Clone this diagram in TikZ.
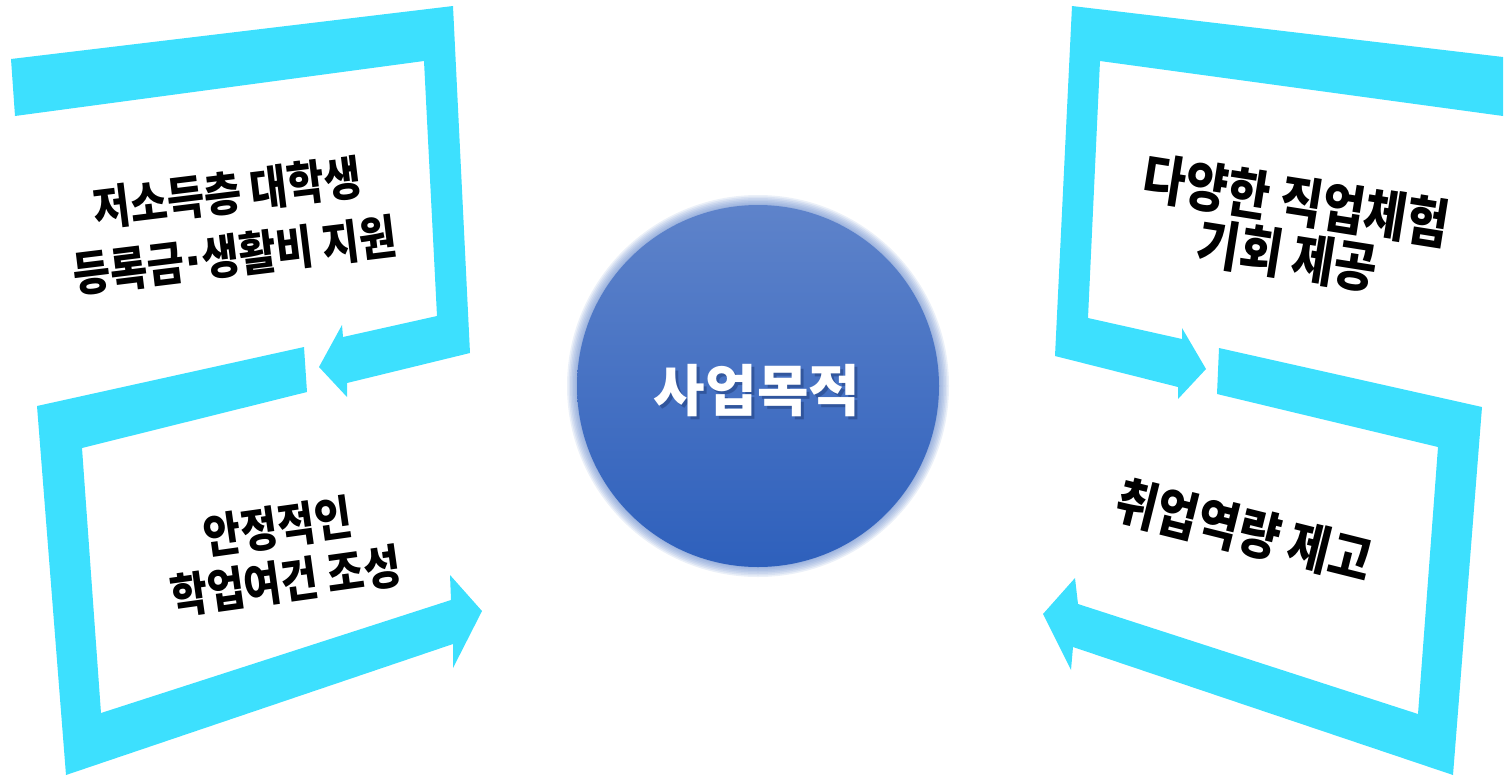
\documentclass[tikz,border=0pt]{standalone}
\usepackage{fontspec}
\newfontfamily\krn[FakeStretch=0.86]{Noto Sans CJK KR}
\newfontfamily\krw{Noto Sans CJK KR}
\newfontfamily\dvs{DejaVu Sans}
\definecolor{cy}{HTML}{3DE0FE}
\definecolor{ctop}{HTML}{5E83CA}
\definecolor{cbot}{HTML}{2E60BC}
\definecolor{glowc}{HTML}{5A80C8}
\definecolor{shad}{HTML}{1F3C78}
\newcommand{\mdot}{{\dvs\bfseries ·}}
\begin{document}
\begin{tikzpicture}[x=1pt,y=-1pt,
  frame/.style={fill=cy, draw=none},
  lbl/.style={align=center, text=black, inner sep=0pt},
  hub/.style={circle, minimum size=362pt, draw=none, top color=ctop, bottom color=cbot, inner sep=0pt},
  hubtxt/.style={font=\krw\bfseries\fontsize{56}{60}\selectfont, inner sep=0pt}]
\useasboundingbox (0,0) rectangle (1505,780);
% frames
\fill[frame] (11,59) -- (453,6) -- (470,353) -- (347,383) -- (347,397) -- (319,367)
  -- (342,325) -- (343,337) -- (437,316) -- (424,61) -- (15,116) -- cycle;
\fill[frame] (304,347) -- (37,406) -- (66,775) -- (453,644) -- (453,668) -- (482,611)
  -- (450,575) -- (451,600) -- (101,713) -- (82,448) -- (307,392) -- cycle;
\fill[frame] (1072,6) -- (1503,57) -- (1503,116) -- (1100,61) -- (1088,318) -- (1182,339)
  -- (1182,328) -- (1206,369) -- (1178,399) -- (1178,387) -- (1055,356) -- cycle;
\fill[frame] (1219,348) -- (1482,407) -- (1453,775) -- (1073,647) -- (1071,670) -- (1043,614)
  -- (1075,578) -- (1078,604) -- (1418,714) -- (1438,447) -- (1217,394) -- cycle;
% glow
\foreach \r in {191,189.5,...,181}
  \fill[glowc, opacity=0.12] (758,386) circle (\r);
\node[hub] (c) at (758,386) {};
\node[hubtxt, text=shad, opacity=0.5] (cs) at (760,394) {사업목적};
\node[hubtxt, text=white] (ct) at (757,391) {사업목적};
% labels
\node[lbl, rotate=7, font=\krn\bfseries\fontsize{47}{63}\selectfont] (t1) at (231,224) {저소득층 대학생\\등록금\mdot 생활비 지원};
\node[lbl, rotate=8, font=\krn\bfseries\fontsize{47}{55}\selectfont] (t2) at (282,554) {안정적인\\학업여건 조성};
\node[lbl, rotate=-9, font=\krn\bfseries\fontsize{54}{55}\selectfont] (t3) at (1292,228) {다양한 직업체험\\기회 제공};
\node[lbl, rotate=-14, font=\krn\bfseries\fontsize{53}{55}\selectfont] (t4) at (1244,531) {취업역량 제고};
\end{tikzpicture}
\end{document}
